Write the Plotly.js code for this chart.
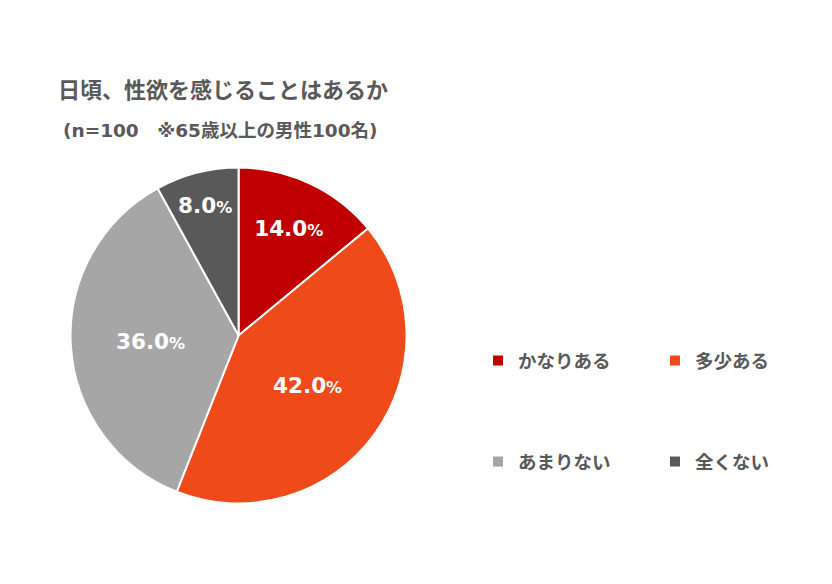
<!DOCTYPE html>
<html>
<head>
<meta charset="utf-8">
<script src="https://cdn.plot.ly/plotly-3.0.1.min.js"></script>
<style>body{margin:0;background:#fff} #chart{width:832px;height:584px}</style>
</head>
<body>
<div id="chart"></div>
<script>
// 回答の値 (%)
const labels = ['かなりある', '多少ある', 'あまりない', '全くない'];
const values = [14.0, 42.0, 36.0, 8.0];
const colors = ['#C00000', '#EF4B1A', '#A6A6A6', '#595959'];

const titleText = '日頃、性欲を感じることはあるか';
const subText = '(n=100\u3000※65歳以上の男性100名)';

const font = 'DejaVu Sans, Noto Sans CJK JP, sans-serif';
const gray = '#595959';

const pie = {
    type: 'pie',
    labels: labels,
    values: values,
    sort: false,
    direction: 'clockwise',
    rotation: 0,
    marker: {colors: colors, line: {color: '#ffffff', width: 2}},
    texttemplate: '%{value:.1f}<span style="font-size:16px">%</span>',
    textposition: 'inside',
    insidetextorientation: 'horizontal',
    textfont: {family: font, size: 21.5, color: '#ffffff', weight: 'bold'},
    domain: {x: [71 / 832, 409 / 832], y: [80 / 584, 417 / 584]},
    showlegend: false,
    hoverinfo: 'none'
};

// 凡例だけの系列 (2行に分ける)
const legendTraces = labels.map((name, i) => ({
    type: 'scatter',
    x: [null], y: [null],
    mode: 'markers',
    name: name,
    marker: {symbol: 'square', size: 10, color: colors[i]},
    legend: i < 2 ? 'legend' : 'legend2',
    hoverinfo: 'none'
}));

const legendStyle = (y) => ({
    orientation: 'h',
    x: 481 / 832, xanchor: 'left',
    y: y, yanchor: 'middle',
    entrywidth: 132,
    entrywidthmode: 'pixels',
    font: {family: font, size: 18.5, color: gray, weight: 'bold'},
    bgcolor: 'rgba(0,0,0,0)'
});

const layout = {
    width: 832,
    height: 584,
    margin: {l: 0, r: 0, t: 0, b: 0},
    paper_bgcolor: '#ffffff',
    plot_bgcolor: '#ffffff',
    title: {
        text: titleText,
        x: 58 / 832, xanchor: 'left', xref: 'container',
        y: 1 - 90 / 584, yanchor: 'middle', yref: 'container',
        font: {family: font, size: 22, color: gray, weight: 'bold'}
    },
    annotations: [{
        text: subText,
        xref: 'paper', yref: 'paper',
        x: 61 / 832, xanchor: 'left',
        y: 1 - 130 / 584, yanchor: 'middle',
        showarrow: false,
        font: {family: font, size: 18.5, color: gray, weight: 'bold'}
    }],
    xaxis: {visible: false},
    yaxis: {visible: false},
    legend: legendStyle(1 - 361 / 584),
    legend2: legendStyle(1 - 462 / 584),
    hovermode: false
};

Plotly.newPlot('chart', [pie].concat(legendTraces), layout, {displayModeBar: false, staticPlot: true});
</script>
</body>
</html>
